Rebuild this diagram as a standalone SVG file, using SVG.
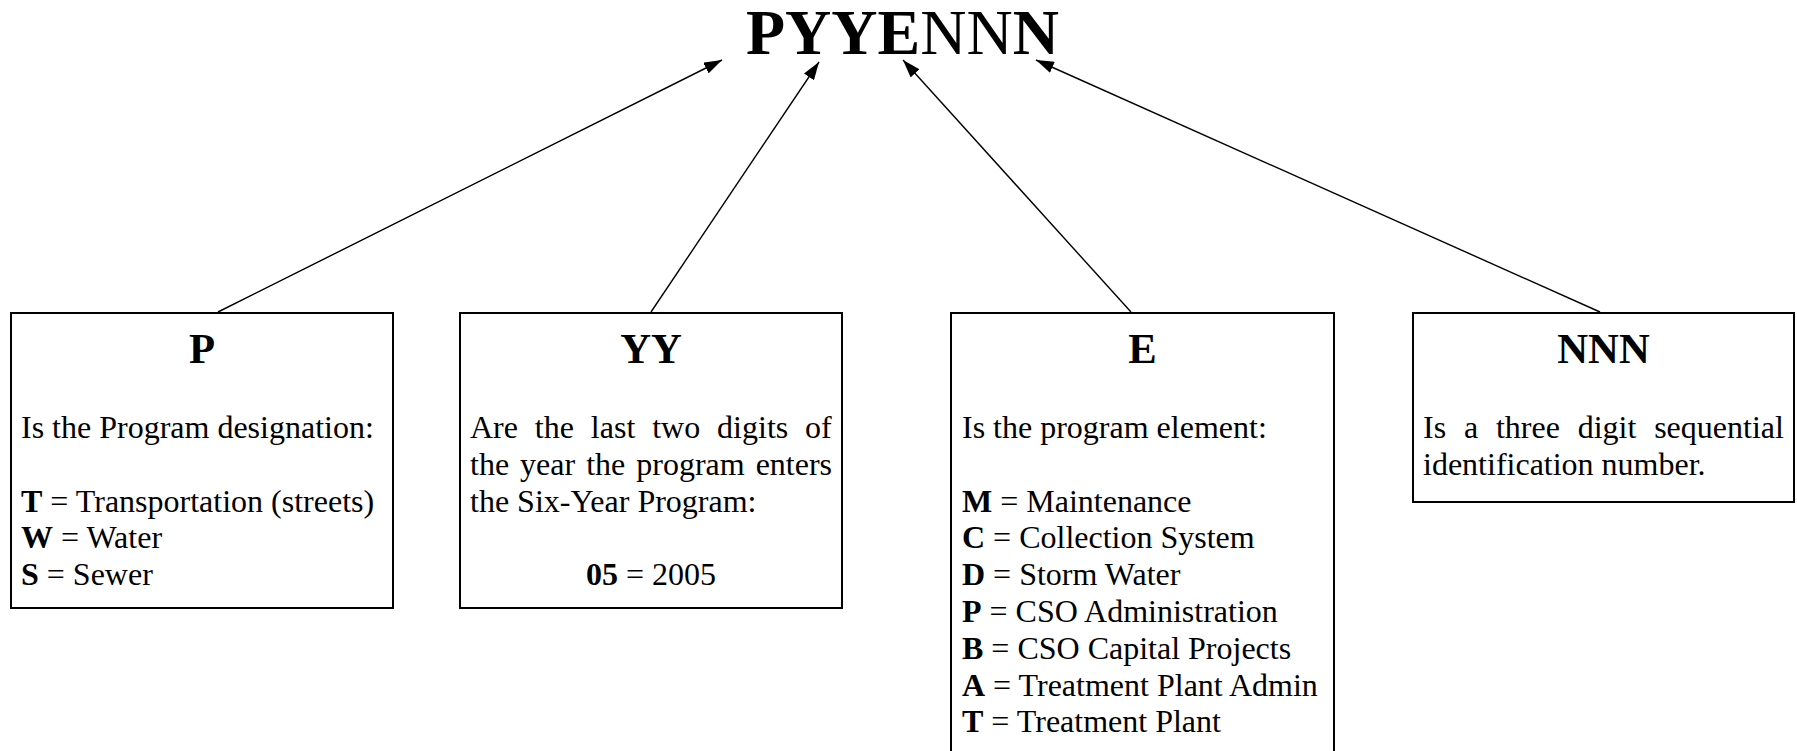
<svg xmlns="http://www.w3.org/2000/svg" width="1797" height="751" viewBox="0 0 1797 751">
<style>
text{font-family:"Liberation Serif","Times New Roman",serif;fill:#000}
.title{font-size:64px}
.hd{font-size:42.7px;font-weight:bold;text-anchor:middle}
.tx{font-size:32px}
.b{font-weight:bold}
.box{fill:#fff;stroke:#000;stroke-width:2}
.con{stroke:#000;stroke-width:1.4;fill:none}
</style>
<defs>
<marker id="ah" markerUnits="userSpaceOnUse" markerWidth="18" markerHeight="12" refX="18" refY="6" orient="auto">
<path d="M0,0 L18,6 L0,12 z" fill="#000"/>
</marker>
</defs>
<rect width="1797" height="751" fill="#fff"/>
<g id="title">
<text class="title" x="746" y="54"><tspan class="b">PYYE</tspan>NN<tspan class="b">N</tspan></text>
</g>
<g id="connectors">
<line class="con" x1="218" y1="312" x2="722" y2="60" marker-end="url(#ah)"/>
<line class="con" x1="651" y1="312" x2="819" y2="62" marker-end="url(#ah)"/>
<line class="con" x1="1131" y1="312" x2="903" y2="60" marker-end="url(#ah)"/>
<line class="con" x1="1600" y1="312" x2="1036" y2="60" marker-end="url(#ah)"/>
</g>
<g id="node-P">
<rect class="box" x="11" y="313" width="382" height="295"/>
<text class="hd" x="202" y="363">P</text>
<text class="tx" x="21" y="438">Is the Program designation:</text>
<text class="tx" x="21" y="511.6"><tspan class="b">T</tspan> = Transportation (streets)</text>
<text class="tx" x="21" y="548.4"><tspan class="b">W</tspan> = Water</text>
<text class="tx" x="21" y="585.2"><tspan class="b">S</tspan> = Sewer</text>
</g>
<g id="node-YY">
<rect class="box" x="460" y="313" width="382" height="295"/>
<text class="hd" x="651" y="363">YY</text>
<text class="tx" x="470" y="438" word-spacing="8.9">Are the last two digits of</text>
<text class="tx" x="470" y="474.8" word-spacing="3">the year the program enters</text>
<text class="tx" x="470" y="511.6">the Six-Year Program:</text>
<text class="tx" x="651" y="585.2" text-anchor="middle"><tspan class="b">05</tspan> = 2005</text>
</g>
<g id="node-E">
<rect class="box" x="951" y="313" width="383" height="447"/>
<text class="hd" x="1142.5" y="363">E</text>
<text class="tx" x="962" y="438">Is the program element:</text>
<text class="tx" x="962" y="511.6"><tspan class="b">M</tspan> = Maintenance</text>
<text class="tx" x="962" y="548.4"><tspan class="b">C</tspan> = Collection System</text>
<text class="tx" x="962" y="585.2"><tspan class="b">D</tspan> = Storm Water</text>
<text class="tx" x="962" y="622"><tspan class="b">P</tspan> = CSO Administration</text>
<text class="tx" x="962" y="658.8"><tspan class="b">B</tspan> = CSO Capital Projects</text>
<text class="tx" x="962" y="695.6"><tspan class="b">A</tspan> = Treatment Plant Admin</text>
<text class="tx" x="962" y="732.4"><tspan class="b">T</tspan> = Treatment Plant</text>
</g>
<g id="node-NNN">
<rect class="box" x="1413" y="313" width="381" height="189"/>
<text class="hd" x="1603.5" y="363">NNN</text>
<text class="tx" x="1423" y="438" word-spacing="9.8">Is a three digit sequential</text>
<text class="tx" x="1423" y="474.8">identification number.</text>
</g>
</svg>
